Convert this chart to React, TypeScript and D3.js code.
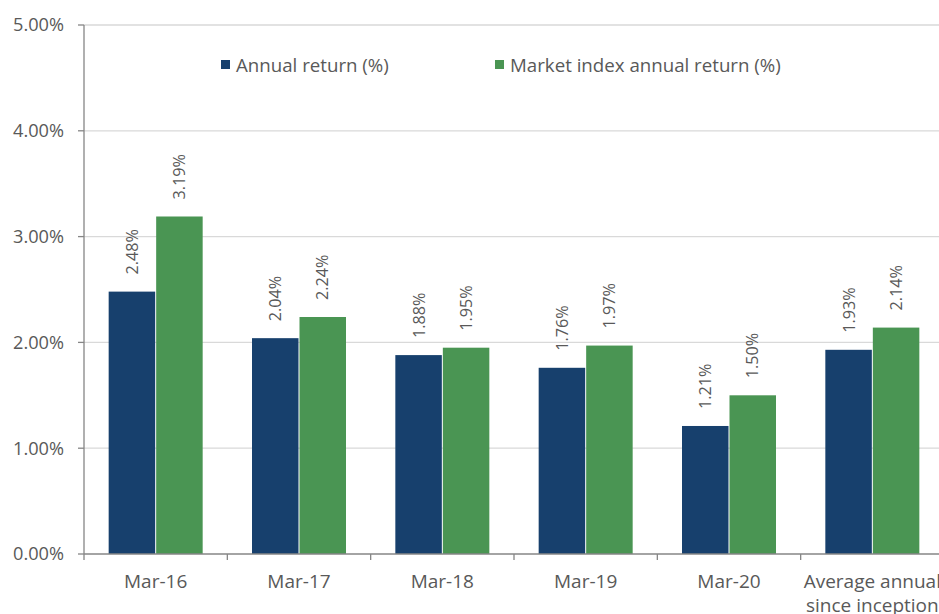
import React from "react";
import * as d3 from "d3";

const categories = ["Mar-16", "Mar-17", "Mar-18", "Mar-19", "Mar-20", "Average annual\nsince inception"];
const seriesNames = ["Annual return (%)", "Market index annual return (%)"];
const annualReturn = [2.48, 2.04, 1.88, 1.76, 1.21, 1.93];
const marketReturn = [3.19, 2.24, 1.95, 1.97, 1.5, 2.14];
const yTicks = [0, 1, 2, 3, 4, 5];
const colors = ["#17406d", "#4a9553"];

const W = 939, H = 614;
const left = 84, right = 944, top = 25, bottom = 554;
const FONT = "'Open Sans', sans-serif";
const TXT = "#595959";

export default function App() {
  const y = d3.scaleLinear().domain([0, 5]).range([bottom, top]);
  const x = d3.scaleBand<string>().domain(categories).range([left, right]).padding(0);
  const bw = x.bandwidth();
  const groupW = 94;
  const inner = d3.scaleBand<string>().domain(seriesNames).range([(bw - groupW) / 2, (bw + groupW) / 2]).padding(0);
  const series = [annualReturn, marketReturn];

  return (
    <svg width={W} height={H} style={{ position: "absolute", left: 0, top: 0 }} fontFamily={FONT}>
      <rect width={W} height={H} fill="#fff" />
      {yTicks.map((t) => (
        <g key={t}>
          {t > 0 && <line x1={left} x2={right} y1={y(t)} y2={y(t)} stroke="#d9d9d9" strokeWidth={1.3} />}
          <line x1={left - 6} x2={left} y1={y(t)} y2={y(t)} stroke="#868686" strokeWidth={1.3} />
          <text x={64} y={y(t)} dy="0.35em" textAnchor="end" fontSize={18.2} fill={TXT}>
            {t.toFixed(2) + "%"}
          </text>
        </g>
      ))}
      {categories.map((c, i) =>
        series.map((s, j) => {
          const bx = (x(c) as number) + (inner(seriesNames[j]) as number);
          const w = inner.bandwidth();
          const v = s[i];
          const cx = bx + w / 2;
          const ty = y(v) - 17;
          return (
            <g key={c + j}>
              <rect x={bx + (j === 0 ? 0 : 0.5)} y={y(v)} width={w - 0.5} height={bottom - y(v)} fill={colors[j]} />
              <text
                transform={`translate(${cx},${ty}) rotate(-90)`}
                dy="0.35em"
                textAnchor="start"
                fontSize={16.2}
                fill={TXT}
              >
                {v.toFixed(2) + "%"}
              </text>
            </g>
          );
        })
      )}
      <line x1={left} x2={left} y1={top} y2={bottom} stroke="#868686" strokeWidth={1.3} />
      <line x1={left} x2={right} y1={bottom} y2={bottom} stroke="#868686" strokeWidth={1.3} />
      {categories.map((c) => (
        <line key={"t" + c} x1={x(c) as number} x2={x(c) as number} y1={bottom} y2={bottom + 6} stroke="#868686" strokeWidth={1.3} />
      ))}
      {categories.map((c) => {
        const lines = c.split("\n");
        const cx = (x(c) as number) + bw / 2;
        return (
          <text key={"l" + c} x={cx} y={588} textAnchor="middle" fontSize={19} fill={TXT}>
            {lines.map((l, k) => (
              <tspan key={k} x={cx} dy={k === 0 ? 0 : 24}>{l}</tspan>
            ))}
          </text>
        );
      })}
      {seriesNames.map((n, j) => {
        const lx = j === 0 ? 221 : 495;
        return (
          <g key={n}>
            <rect x={lx} y={60} width={9} height={9} fill={colors[j]} />
            <text x={lx + 15} y={65} dy="0.35em" fontSize={18.7} fill={TXT}>{n}</text>
          </g>
        );
      })}
    </svg>
  );
}
